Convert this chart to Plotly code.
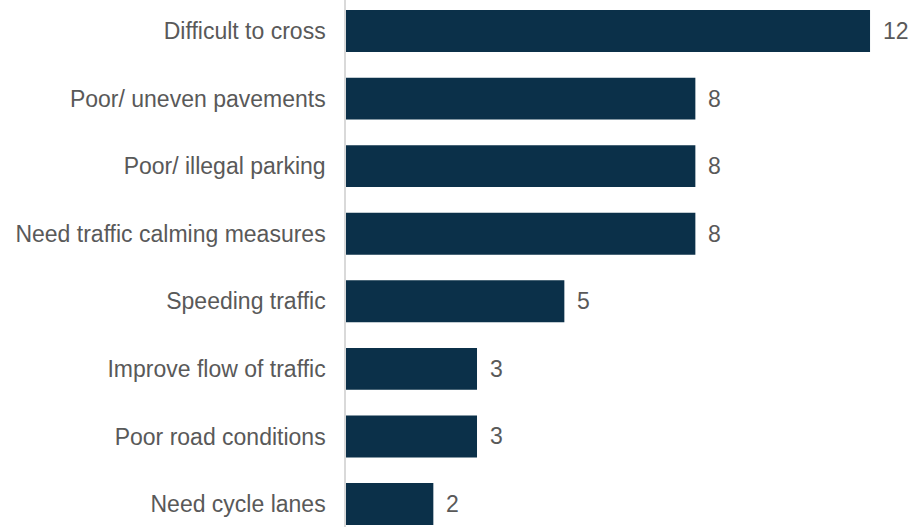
import plotly.graph_objects as go

# Survey responses: road / pavement issues raised
categories = [
    "Difficult to cross",
    "Poor/ uneven pavements",
    "Poor/ illegal parking",
    "Need traffic calming measures",
    "Speeding traffic",
    "Improve flow of traffic",
    "Poor road conditions",
    "Need cycle lanes",
]
counts = [12, 8, 8, 8, 5, 3, 3, 2]

BAR_COLOR = "#0b3049"
TEXT_COLOR = "#595959"
FONT = "Liberation Sans, Arial, sans-serif"
FONT_SIZE = 23

# bottom-to-top order for the horizontal bar chart
cats_bt = categories[::-1]
vals_bt = counts[::-1]

fig = go.Figure(
    go.Bar(
        x=vals_bt,
        y=cats_bt,
        orientation="h",
        marker=dict(color=BAR_COLOR, line=dict(width=0)),
        width=0.62,
        hoverinfo="x+y",
    )
)

# value labels just past the end of each bar
for c, v in zip(cats_bt, vals_bt):
    fig.add_annotation(
        x=v, y=c, text=str(v), showarrow=False,
        xanchor="left", xshift=11,
        font=dict(family=FONT, size=FONT_SIZE, color=TEXT_COLOR),
    )

fig.update_layout(
    width=910,
    height=527,
    margin=dict(l=346, r=0, t=0, b=0),
    paper_bgcolor="white",
    plot_bgcolor="white",
    showlegend=False,
    font=dict(family=FONT, size=FONT_SIZE, color=TEXT_COLOR),
)

fig.update_xaxes(
    range=[0, 12.915],
    showgrid=False,
    zeroline=False,
    showticklabels=False,
    showline=False,
)

fig.update_yaxes(
    type="category",
    categoryorder="array",
    categoryarray=cats_bt,
    range=[-0.34, 7.459],
    showgrid=False,
    zeroline=False,
    showline=True,
    linecolor="#d9d9d9",
    linewidth=1.5,
    ticks="",
    ticklabelstandoff=14,
    tickfont=dict(family=FONT, size=FONT_SIZE, color=TEXT_COLOR),
)

fig.write_html("out.html")
